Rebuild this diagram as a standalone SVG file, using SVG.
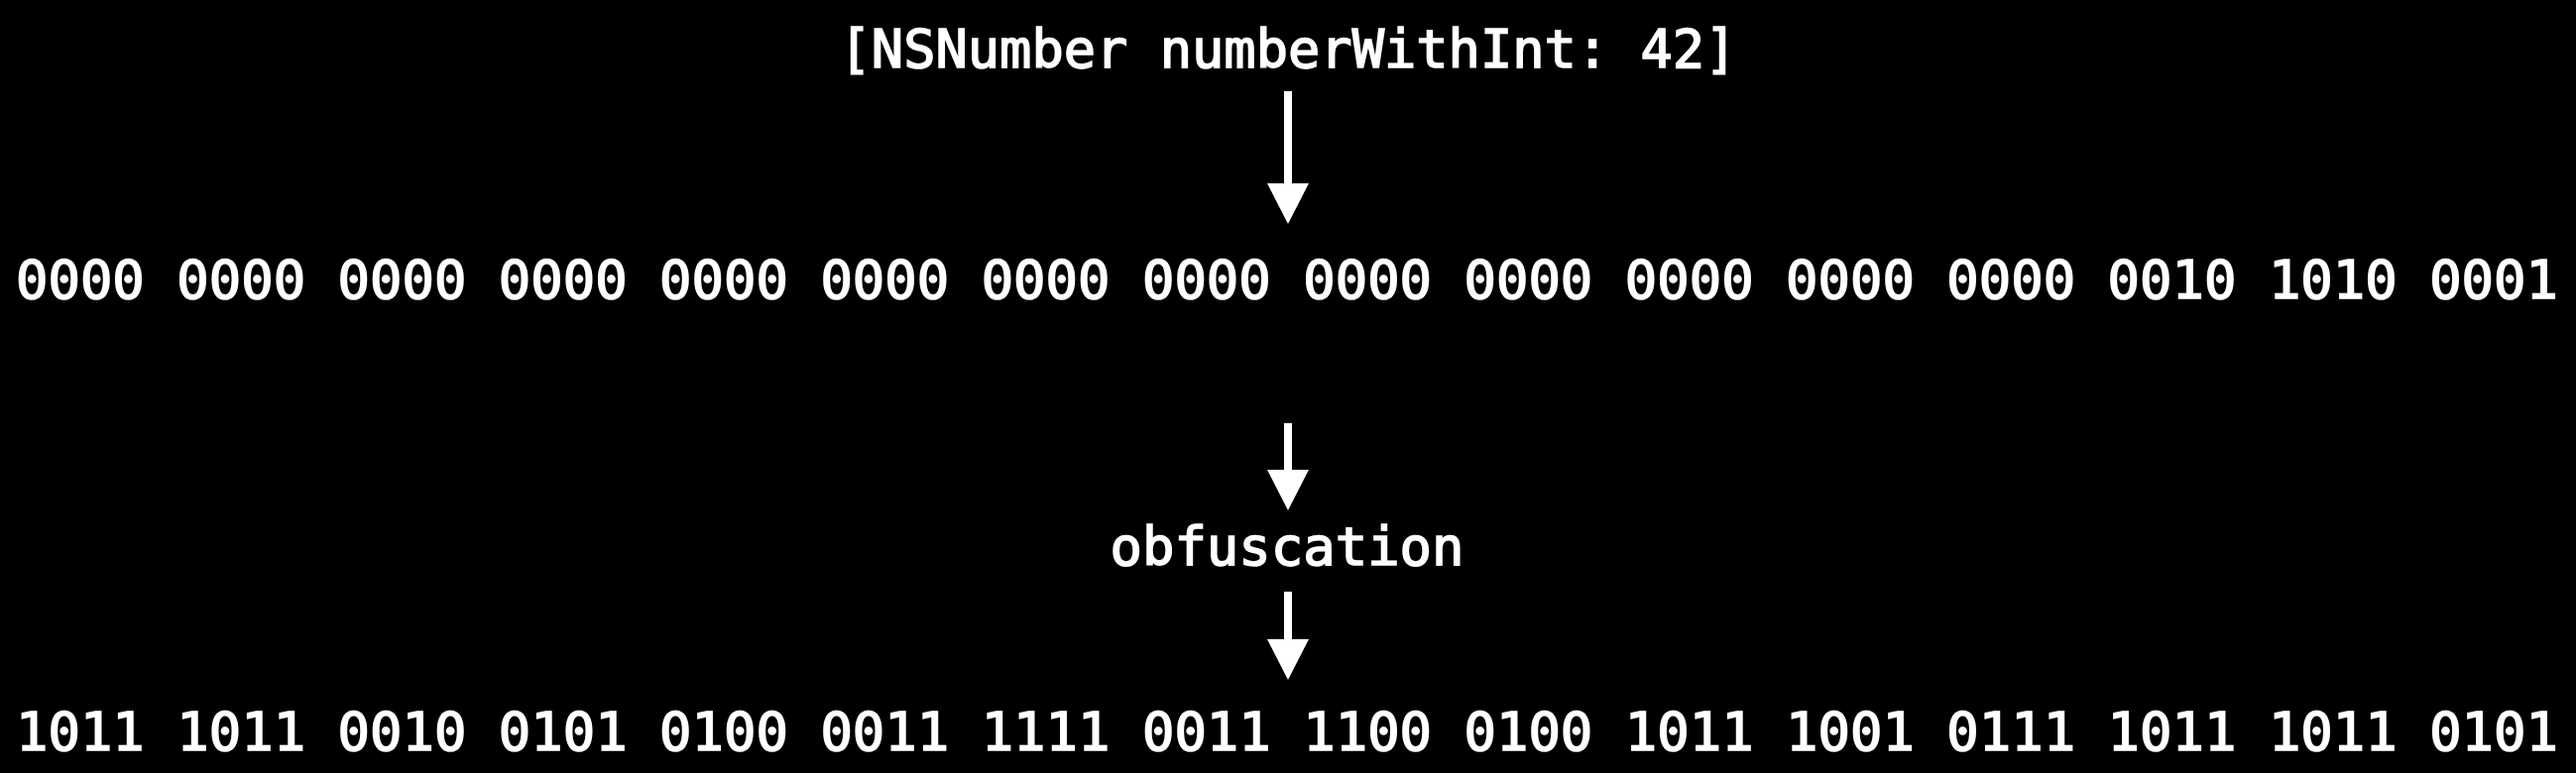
<svg xmlns="http://www.w3.org/2000/svg" width="2598" height="780" viewBox="0 0 2598 780">
<style>
.t{font-family:"DejaVu Sans Mono","Liberation Mono",monospace;font-size:54px;fill:#ffffff;stroke:#ffffff;stroke-width:1.6px;}
.c{stroke:#ffffff;stroke-width:8;fill:none;}
</style>
<defs>
<marker id="ah" markerUnits="userSpaceOnUse" viewBox="0 0 41 42" refX="0" refY="21" markerWidth="41" markerHeight="42" orient="auto">
<path d="M0,0 L41,21 L0,42 Z" fill="#ffffff"/>
</marker>
</defs>
<rect x="0" y="0" width="2598" height="780" fill="#000000"/>
<g id="title"><text class="t" x="1299" y="68" text-anchor="middle" textLength="905" lengthAdjust="spacingAndGlyphs">[NSNumber numberWithInt: 42]</text></g>
<g id="bits-original"><text class="t" x="16" y="301" textLength="2564" lengthAdjust="spacingAndGlyphs">0000 0000 0000 0000 0000 0000 0000 0000 0000 0000 0000 0000 0000 0010 1010 0001</text></g>
<g id="obfuscation"><text class="t" x="1298" y="570" text-anchor="middle" textLength="357" lengthAdjust="spacingAndGlyphs">obfuscation</text></g>
<g id="bits-obfuscated"><text class="t" x="16" y="757" textLength="2564" lengthAdjust="spacingAndGlyphs">1011 1011 0010 0101 0100 0011 1111 0011 1100 0100 1011 1001 0111 1011 1011 0101</text></g>
<g id="connectors">
<line class="c" x1="1299" y1="92" x2="1299" y2="185" marker-end="url(#ah)"/>
<line class="c" x1="1299" y1="427" x2="1299" y2="474" marker-end="url(#ah)"/>
<line class="c" x1="1299" y1="597" x2="1299" y2="645" marker-end="url(#ah)"/>
</g>
</svg>
